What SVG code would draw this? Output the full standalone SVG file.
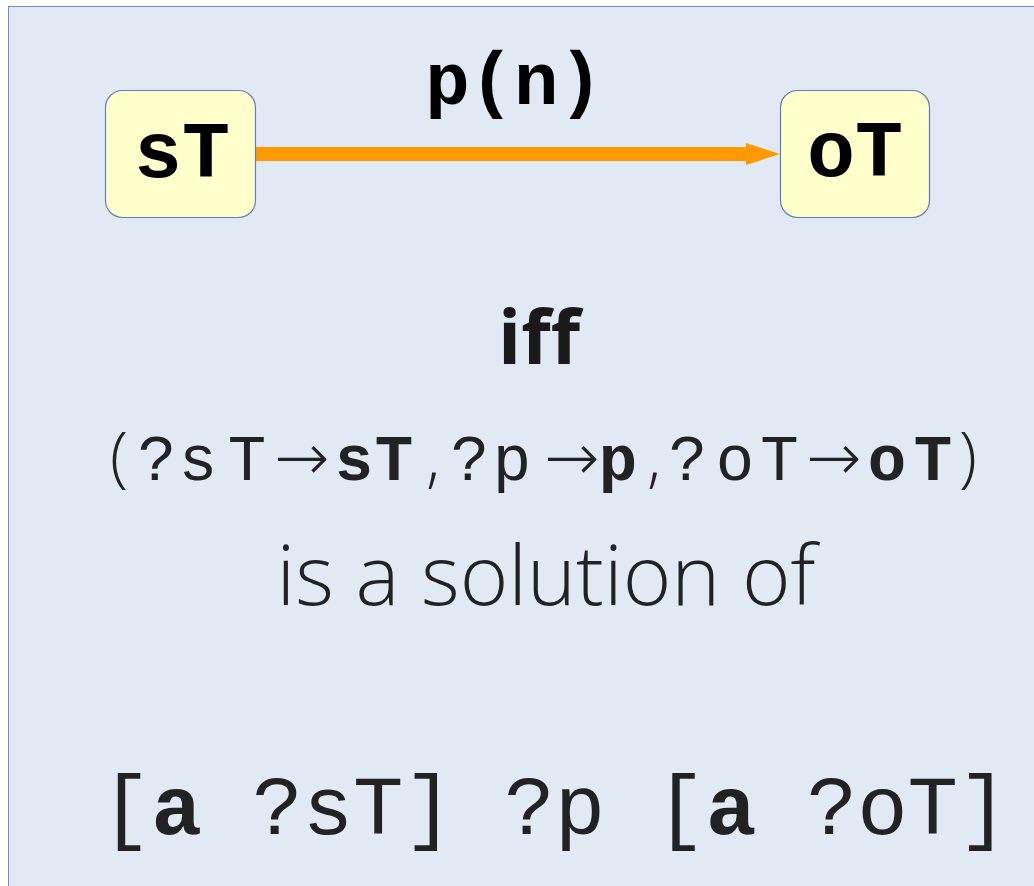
<svg xmlns="http://www.w3.org/2000/svg" width="1034" height="886" viewBox="0 0 1034 886">
<style>
.bg{fill:#e1e9f5;stroke:#6f8fc4;stroke-width:1}
.node{fill:#ffffcc;stroke:#5b80b8;stroke-width:1.2}
.lbl{font-family:"Liberation Mono","Courier New",monospace;font-weight:bold;font-size:80px;fill:#000;text-anchor:middle}
.edge{font-family:"Liberation Mono","Courier New",monospace;font-weight:bold;font-size:74px;fill:#000;text-anchor:middle}
.mono{font-family:"Liberation Mono","Courier New",monospace;font-size:64px;fill:#222;text-anchor:middle}
.monob{font-family:"Liberation Mono","Courier New",monospace;font-weight:bold;font-size:64px;fill:#222;text-anchor:middle}
.sl{font-family:"Open Sans","DejaVu Sans",sans-serif;font-weight:300;font-size:66px;fill:#222;text-anchor:middle}
.big{font-family:"Open Sans","DejaVu Sans",sans-serif;font-weight:300;font-size:83px;fill:#222;text-anchor:middle}
.iff{font-family:"Open Sans","DejaVu Sans",sans-serif;font-weight:bold;font-size:76px;fill:#1a1a1a;text-anchor:middle}
.bottom{font-family:"Liberation Mono","Courier New",monospace;font-size:84px;fill:#222;white-space:pre}
</style>
<defs>
<marker id="ah" markerUnits="userSpaceOnUse" markerWidth="34" markerHeight="22" refX="0" refY="11" orient="auto">
<polygon points="0,0 34,11 0,22" fill="#ff9900"/>
</marker>
</defs>
<rect class="bg" x="8.5" y="6.5" width="1040" height="900"/>
<g id="connectors">
<line x1="256" y1="154" x2="746" y2="154" stroke="#ff9900" stroke-width="14" marker-end="url(#ah)"/>
<text class="edge" x="514" y="104">p(n)</text>
</g>
<g id="node-sT">
<rect class="node" x="105.5" y="90.5" width="150" height="127" rx="17"/>
<text class="lbl" x="182" y="177">sT</text>
</g>
<g id="node-oT">
<rect class="node" x="780.5" y="90.5" width="149" height="127" rx="17"/>
<text class="lbl" x="855" y="176">oT</text>
</g>
<text class="iff" x="539" y="364">iff</text>
<g id="binding">
<text class="sl" x="119" y="480">(</text>
<text class="mono" x="157 198 247" y="480">?sT</text>
<text class="sl" x="302" y="480">→</text>
<text class="monob" x="354 394" y="480">sT</text>
<text class="sl" x="433" y="480">,</text>
<text class="mono" x="470 512" y="480">?p</text>
<text class="sl" x="572" y="480">→</text>
<text class="monob" x="618" y="480">p</text>
<text class="sl" x="654" y="480">,</text>
<text class="mono" x="688 735 779.5" y="480">?oT</text>
<text class="sl" x="834" y="480">→</text>
<text class="monob" x="887 933" y="480">oT</text>
<text class="sl" x="968" y="480">)</text>
</g>
<text class="big" x="546" y="605">is a solution of</text>
<text class="bottom" x="101" y="834">[<tspan font-weight="bold">a</tspan> ?sT] ?p [<tspan font-weight="bold">a</tspan> ?oT]</text>
</svg>
